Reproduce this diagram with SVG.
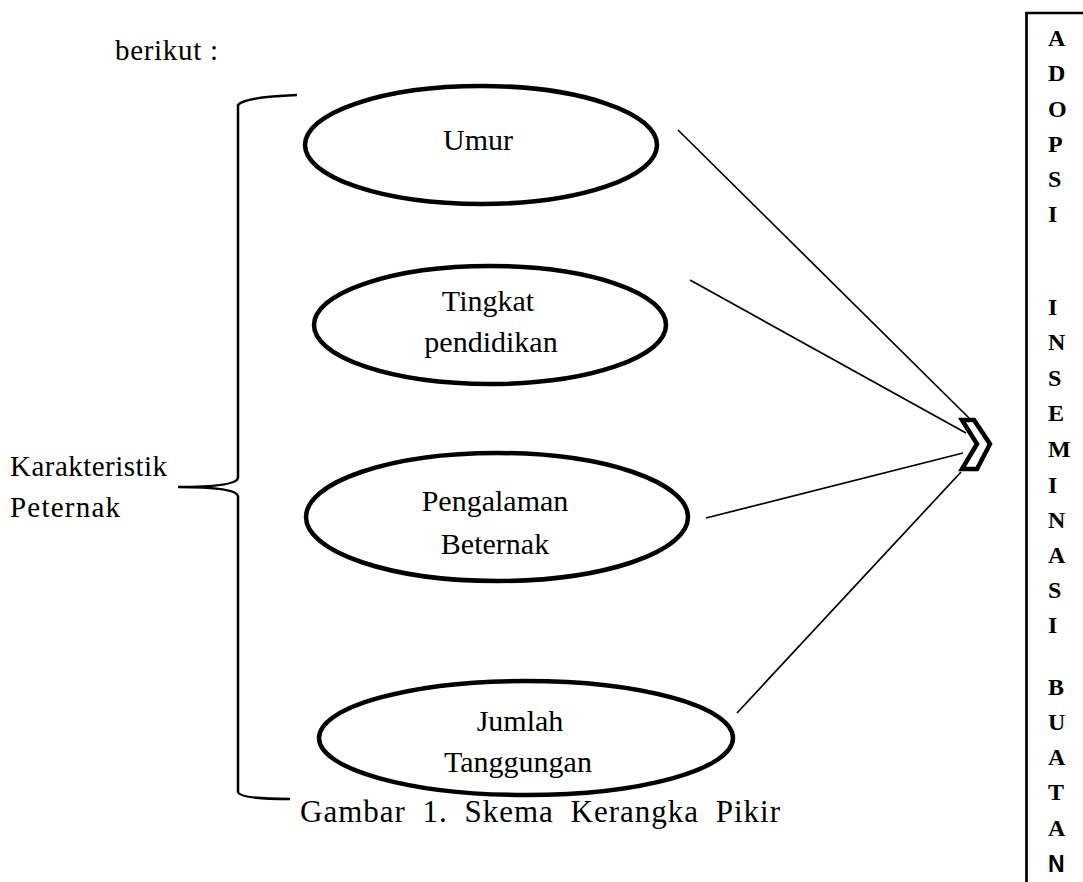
<svg xmlns="http://www.w3.org/2000/svg" width="1083" height="882" viewBox="0 0 1083 882">
<style>
.t{font-family:"Liberation Serif","Times New Roman",serif;font-size:29px;fill:#000}
.n{font-size:30px}
.c{text-anchor:middle}
.v{font-family:"Liberation Serif","Times New Roman",serif;font-size:24px;font-weight:bold;fill:#000}
.vs{font-family:"Liberation Sans",Arial,sans-serif;font-size:23px;font-weight:bold;fill:#000}
.e{fill:none;stroke:#000;stroke-width:4.5}
.ln{stroke:#000;stroke-width:1.7;fill:none}
</style>
<rect width="1083" height="882" fill="#fff"/>
<text class="t" x="115" y="60" textLength="103" lengthAdjust="spacing">berikut :</text>

<g id="brace">
<path d="M297,95 Q245,97 238,105 L238,478 Q236,487 178,487 Q236,487 238,496 L238,792 Q240,799 290,799" fill="none" stroke="#000" stroke-width="2.5"/>
</g>
<g id="karakteristik">
<text class="t" x="10" y="476" textLength="157" lengthAdjust="spacing">Karakteristik</text>
<text class="t" x="10" y="517" textLength="110" lengthAdjust="spacing">Peternak</text>
</g>

<g id="umur">
<ellipse class="e" cx="481" cy="145" rx="176" ry="59"/>
<text class="t n c" x="478" y="150">Umur</text>
</g>
<g id="tingkat">
<ellipse class="e" cx="490" cy="325" rx="176" ry="59"/>
<text class="t n c" x="488" y="311">Tingkat</text>
<text class="t n c" x="491" y="352">pendidikan</text>
</g>
<g id="pengalaman">
<ellipse class="e" cx="497" cy="517" rx="191" ry="64"/>
<text class="t n c" x="495" y="511">Pengalaman</text>
<text class="t n c" x="495" y="554">Beternak</text>
</g>
<g id="jumlah">
<ellipse class="e" cx="526" cy="738" rx="207" ry="57"/>
<text class="t n c" x="520" y="731">Jumlah</text>
<text class="t n c" x="518" y="772">Tanggungan</text>
</g>

<g id="connectors">
<line class="ln" x1="678" y1="130" x2="969" y2="418"/>
<line class="ln" x1="690" y1="280" x2="966" y2="433"/>
<line class="ln" x1="706" y1="518" x2="963" y2="453"/>
<line class="ln" x1="737" y1="713" x2="961" y2="472"/>
</g>

<g id="chevron">
<polygon points="962,420 974,420 990,444 977,469 962,469 977,444" fill="#fff" stroke="#000" stroke-width="4.5" stroke-linejoin="miter"/>
</g>

<g id="adopsi-box">
<path d="M1026.5,882 L1026.5,13 L1083,13" fill="none" stroke="#000" stroke-width="2.7"/>
<text class="v" x="1048" y="46">A</text>
<text class="v" x="1048" y="81">D</text>
<text class="v" x="1048" y="117">O</text>
<text class="v" x="1048" y="152">P</text>
<text class="v" x="1048" y="187">S</text>
<text class="v" x="1048" y="222">I</text>
<text class="v" x="1048" y="315">I</text>
<text class="v" x="1048" y="350">N</text>
<text class="v" x="1048" y="386">S</text>
<text class="v" x="1048" y="421">E</text>
<text class="v" x="1048" y="457">M</text>
<text class="v" x="1048" y="493">I</text>
<text class="v" x="1048" y="528">N</text>
<text class="v" x="1048" y="563">A</text>
<text class="v" x="1048" y="598">S</text>
<text class="v" x="1048" y="633">I</text>
<text class="v" x="1048" y="695">B</text>
<text class="v" x="1048" y="730">U</text>
<text class="v" x="1048" y="765">A</text>
<text class="v" x="1048" y="800">T</text>
<text class="v" x="1048" y="836">A</text>
<text class="vs" x="1048" y="872">N</text>
</g>

<g id="caption">
<text class="t" x="300" y="822" style="font-size:31px;word-spacing:8px" textLength="480" lengthAdjust="spacing">Gambar 1. Skema Kerangka Pikir</text>
</g>
</svg>
